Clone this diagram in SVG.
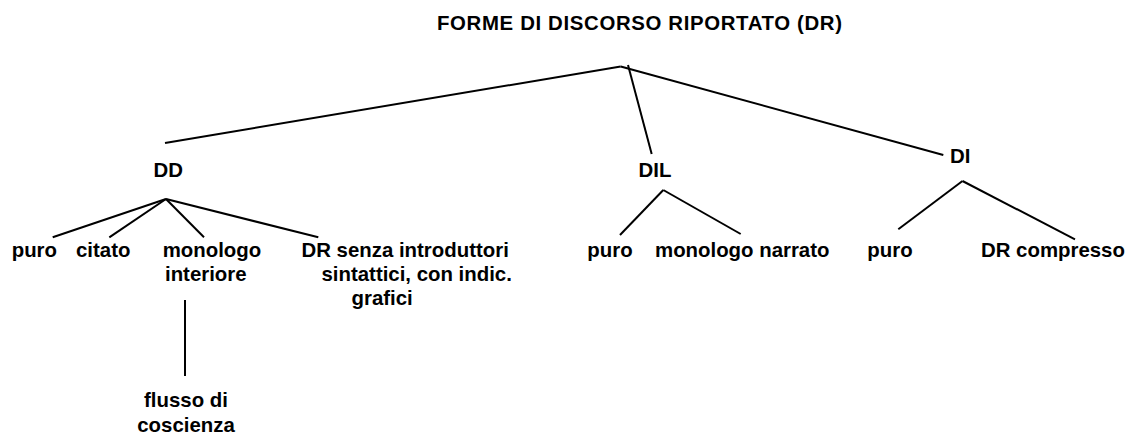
<svg xmlns="http://www.w3.org/2000/svg" width="1131" height="434" viewBox="0 0 1131 434">
<style>
text{font-family:"Liberation Sans",Arial,sans-serif;font-weight:bold;font-size:20.4px;fill:#000}
.c line{stroke:#000;stroke-width:2;stroke-linecap:butt}
</style>
<rect width="1131" height="434" fill="#fff"/>
<g class="c" id="connectors">
<line x1="620.7" y1="66.5" x2="165" y2="143"/>
<line x1="628" y1="65" x2="651.7" y2="154"/>
<line x1="620.7" y1="66.5" x2="943.3" y2="155"/>
<line x1="166" y1="199" x2="52.7" y2="237.3"/>
<line x1="166" y1="199" x2="109.3" y2="237.3"/>
<line x1="166" y1="199" x2="204" y2="237.3"/>
<line x1="166" y1="199" x2="318.3" y2="237.3"/>
<line x1="185" y1="300" x2="185" y2="376"/>
<line x1="663.3" y1="190" x2="620" y2="235"/>
<line x1="663.3" y1="190" x2="740.7" y2="234"/>
<line x1="962.5" y1="181" x2="898.3" y2="229.3"/>
<line x1="962.5" y1="181" x2="1075" y2="239.3"/>
</g>
<g id="root"><text x="639.5" y="30" text-anchor="middle" textLength="405" lengthAdjust="spacing">FORME DI DISCORSO RIPORTATO (DR)</text></g>
<g id="dd"><text x="168.3" y="176.7" text-anchor="middle">DD</text></g>
<g id="dil"><text x="655" y="177.3" text-anchor="middle">DIL</text></g>
<g id="di"><text x="960.3" y="163.3" text-anchor="middle">DI</text></g>
<g id="dd-puro"><text x="11.7" y="256.7">puro</text></g>
<g id="dd-citato"><text x="76" y="256.7">citato</text></g>
<g id="dd-monologo"><text x="162.7" y="256.7">monologo</text><text x="165" y="280.7">interiore</text></g>
<g id="dd-drsenza"><text x="301.5" y="256.7">DR senza introduttori</text><text x="321.5" y="280.7">sintattici, con indic.</text><text x="351.5" y="304.7">grafici</text></g>
<g id="flusso"><text x="186" y="407.3" text-anchor="middle">flusso di</text><text x="186" y="431.5" text-anchor="middle">coscienza</text></g>
<g id="dil-puro"><text x="587.3" y="256.7">puro</text></g>
<g id="dil-monologo"><text x="655" y="256.7">monologo narrato</text></g>
<g id="di-puro"><text x="867.3" y="256.7">puro</text></g>
<g id="di-drcompresso"><text x="981" y="256.7">DR compresso</text></g>
</svg>
